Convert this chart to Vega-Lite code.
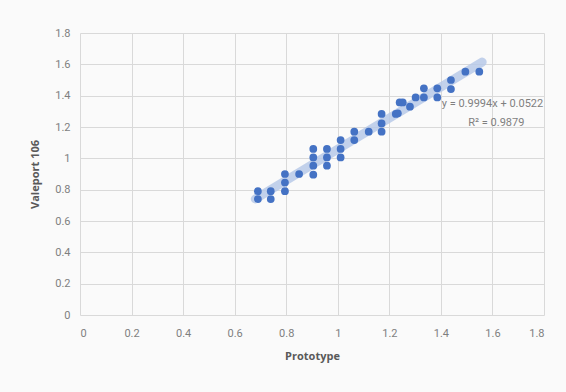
{
  "$schema": "https://vega.github.io/schema/vega-lite/v6.json",
  "width": 464,
  "height": 282,
  "autosize": {"type": "none"},
  "padding": {"left": 80, "top": 33, "right": 22, "bottom": 77},
  "background": "#fafafa",
  "config": {
    "view": {"stroke": null},
    "font": "Liberation Sans Narrow, Roboto, sans-serif",
    "axis": {
      "grid": true,
      "gridColor": "#d9d9d9",
      "gridWidth": 1,
      "domain": false,
      "ticks": false,
      "labelOverlap": false,
      "labelColor": "#7f7f7f",
      "labelFontSize": 11,
      "labelFont": "Liberation Sans Narrow, Roboto, sans-serif",
      "titleColor": "#595959",
      "titleFontSize": 11,
      "titleFontWeight": "bold",
      "titleFont": "Open Sans, sans-serif"
    }
  },
  "datasets": {
    "points": [
      {"prototype": 0.69, "valeport": 0.79},
      {"prototype": 0.69, "valeport": 0.74},
      {"prototype": 0.74, "valeport": 0.79},
      {"prototype": 0.74, "valeport": 0.74},
      {"prototype": 0.795, "valeport": 0.9},
      {"prototype": 0.795, "valeport": 0.845},
      {"prototype": 0.795, "valeport": 0.79},
      {"prototype": 0.85, "valeport": 0.9},
      {"prototype": 0.905, "valeport": 1.06},
      {"prototype": 0.905, "valeport": 1.006},
      {"prototype": 0.905, "valeport": 0.953},
      {"prototype": 0.905, "valeport": 0.896},
      {"prototype": 0.958, "valeport": 1.06},
      {"prototype": 0.958, "valeport": 1.006},
      {"prototype": 0.958, "valeport": 0.953},
      {"prototype": 1.011, "valeport": 1.117},
      {"prototype": 1.011, "valeport": 1.06},
      {"prototype": 1.011, "valeport": 1.006},
      {"prototype": 1.064, "valeport": 1.17},
      {"prototype": 1.064, "valeport": 1.117},
      {"prototype": 1.12, "valeport": 1.17},
      {"prototype": 1.17, "valeport": 1.283},
      {"prototype": 1.17, "valeport": 1.223},
      {"prototype": 1.17, "valeport": 1.17},
      {"prototype": 1.225, "valeport": 1.283},
      {"prototype": 1.233, "valeport": 1.287},
      {"prototype": 1.24, "valeport": 1.357},
      {"prototype": 1.252, "valeport": 1.357},
      {"prototype": 1.28, "valeport": 1.33},
      {"prototype": 1.302, "valeport": 1.389},
      {"prototype": 1.334, "valeport": 1.447},
      {"prototype": 1.334, "valeport": 1.389},
      {"prototype": 1.386, "valeport": 1.447},
      {"prototype": 1.386, "valeport": 1.389},
      {"prototype": 1.439, "valeport": 1.5},
      {"prototype": 1.439, "valeport": 1.442},
      {"prototype": 1.495, "valeport": 1.553},
      {"prototype": 1.549, "valeport": 1.553}
    ],
    "labels": [
      {"prototype": 1.6, "valeport": 1.345, "text": "y = 0.9994x + 0.0522"},
      {"prototype": 1.615, "valeport": 1.225, "text": "R² = 0.9879"}
    ]
  },
  "encoding": {
    "x": {"field": "prototype", "type": "quantitative", "scale": {"domain": [0, 1.8], "nice": false},
      "axis": {"values": [0, 0.2, 0.4, 0.6, 0.8, 1, 1.2, 1.4, 1.6, 1.8], "format": "~g", "labelOverlap": false, "labelPadding": 12, "titlePadding": 12, "title": "Prototype"}},
    "y": {"field": "valeport", "type": "quantitative", "scale": {"domain": [0, 1.8], "nice": false},
      "axis": {"values": [0, 0.2, 0.4, 0.6, 0.8, 1, 1.2, 1.4, 1.6, 1.8], "format": "~g", "labelOverlap": false, "labelPadding": 10, "titlePadding": 14, "title": "Valeport 106"}}
  },
  "layer": [
    {
      "data": {"name": "points"},
      "transform": [
        {"regression": "valeport", "on": "prototype", "extent": [0.68, 1.56]}
      ],
      "mark": {"type": "line", "color": "#b4c7e7", "opacity": 0.8, "strokeWidth": 9, "strokeCap": "round"}
    },
    {
      "data": {"name": "points"},
      "mark": {"type": "circle", "color": "#4472c4", "opacity": 1, "size": 60}
    },
    {
      "data": {"name": "labels"},
      "mark": {"type": "text", "color": "#7f7f7f", "fontSize": 11, "align": "center", "baseline": "middle"},
      "encoding": {
        "text": {"field": "text"}
      }
    }
  ]
}
